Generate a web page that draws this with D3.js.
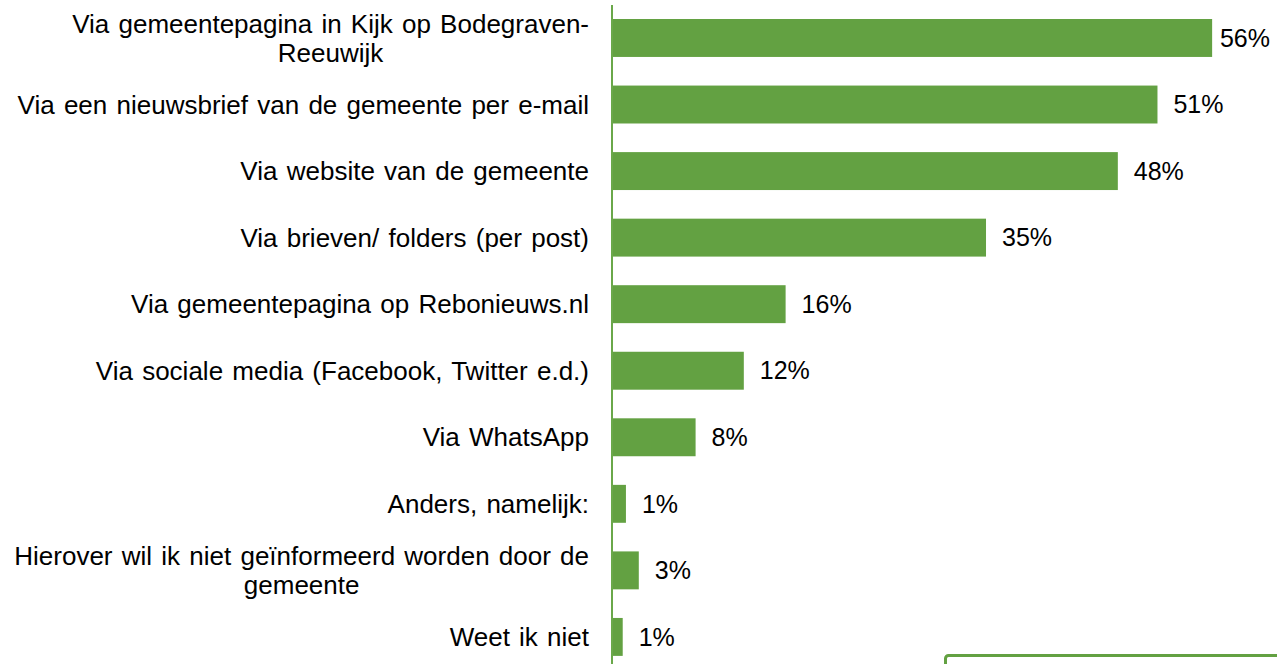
<!DOCTYPE html>
<html>
<head>
<meta charset="utf-8">
<script src="https://cdn.jsdelivr.net/npm/d3@7"></script>
<style>
  html, body { margin: 0; padding: 0; background: #fff; overflow: hidden; }
  text { font-family: "Liberation Sans", Arial, sans-serif; fill: #000; }
</style>
</head>
<body>
<div id="chart"></div>
<script>
// categories (top to bottom), wrapped lines per label
const categories = [
  ['Via gemeentepagina in Kijk op Bodegraven-', 'Reeuwijk'],
  ['Via een nieuwsbrief van de gemeente per e-mail'],
  ['Via website van de gemeente'],
  ['Via brieven/ folders (per post)'],
  ['Via gemeentepagina op Rebonieuws.nl'],
  ['Via sociale media (Facebook, Twitter e.d.)'],
  ['Via WhatsApp'],
  ['Anders, namelijk:'],
  ['Hierover wil ik niet geïnformeerd worden door de', 'gemeente'],
  ['Weet ik niet']
]
const values = [56.0, 50.9, 47.2, 34.9, 16.2, 12.3, 7.8, 1.3, 2.5, 1.0]
const valueLabels = ['56%', '51%', '48%', '35%', '16%', '12%', '8%', '1%', '3%', '1%']

const w = 1277;
const h = 664;
const axisX = 612;
const labelRight = 589;
const green = '#63A142';

const svg = d3.select('#chart')
              .append('svg')
              .attr('width', w)
              .attr('height', h);

const idx = d3.range(values.length);

const xScale = d3.scaleLinear()
                 .domain([0, 60])
                 .range([axisX, 1255]);

const yScale = d3.scaleBand()
                 .domain(idx)
                 .range([4.7, 670.2])
                 .paddingInner(0.43)
                 .paddingOuter(0.215);

// bars
svg.selectAll('rect.bar')
   .data(idx)
   .enter()
   .append('rect')
   .attr('class', 'bar')
   .attr('x', axisX)
   .attr('y', i => yScale(i))
   .attr('width', i => xScale(values[i]) - axisX)
   .attr('height', yScale.bandwidth())
   .attr('fill', green);

// vertical axis line
svg.append('line')
   .attr('x1', axisX)
   .attr('x2', axisX)
   .attr('y1', 5)
   .attr('y2', h)
   .attr('stroke', '#6aa84a')
   .attr('stroke-width', 2);

// category labels, multi-line centred on each other, block right-aligned
const lineH = 29;
idx.forEach(i => {
    const lines = categories[i];
    const cy = yScale(i) + yScale.bandwidth() / 2;
    const g = svg.append('g');
    const texts = lines.map((line, j) => g.append('text')
        .attr('y', cy + (j - (lines.length - 1) / 2) * lineH)
        .attr('dy', '0.35em')
        .style('font-size', '26px')
        .style('word-spacing', '2px')
        .text(line));
    const maxW = d3.max(texts, t => t.node().getComputedTextLength());
    texts.forEach(t => {
        if (lines.length > 1) {
            t.attr('x', labelRight - maxW / 2).attr('text-anchor', 'middle');
        } else {
            t.attr('x', labelRight).attr('text-anchor', 'end');
        }
    });
});

// value labels
svg.selectAll('text.val')
   .data(idx)
   .enter()
   .append('text')
   .attr('class', 'val')
   .attr('y', i => yScale(i) + yScale.bandwidth() / 2)
   .attr('dy', '0.35em')
   .style('font-size', '25px')
   .text(i => valueLabels[i])
   .attr('x', function(i) {
       const tw = this.getComputedTextLength();
       const x = xScale(values[i]) + 16;
       return Math.min(x, w - 7 - tw);
   });

// legend box peeking in at the bottom right
svg.append('rect')
   .attr('x', 945.5)
   .attr('y', 655.5)
   .attr('width', 400)
   .attr('height', 60)
   .attr('rx', 3)
   .attr('fill', 'none')
   .attr('stroke', green)
   .attr('stroke-width', 3);
</script>
</body>
</html>
